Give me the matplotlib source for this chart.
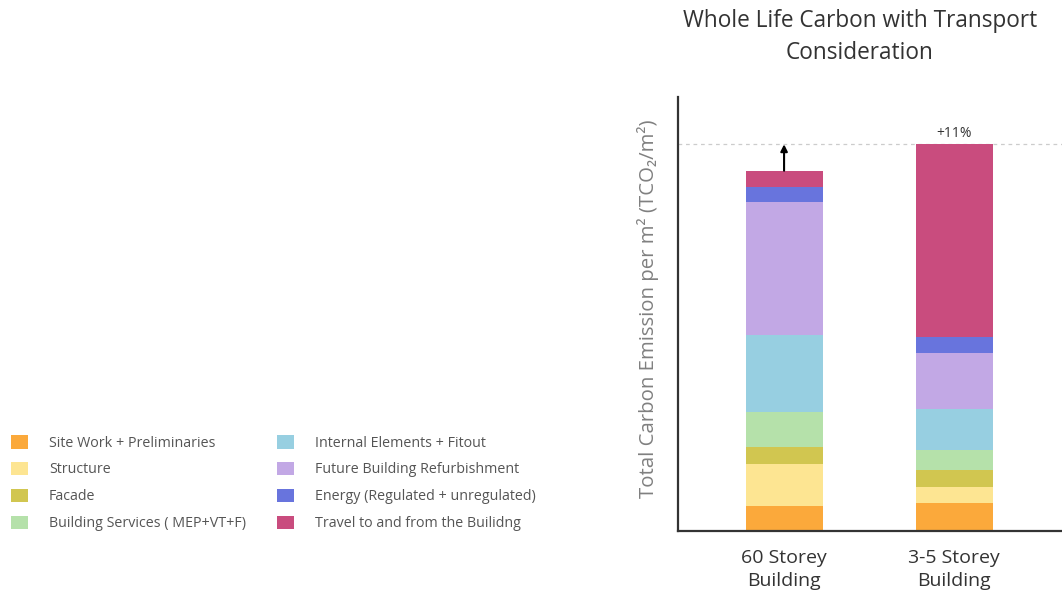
import matplotlib.pyplot as plt
import numpy as np
from matplotlib.patches import Patch

plt.rcParams['font.family'] = ['Open Sans', 'DejaVu Sans']

buildings = ["60 Storey\nBuilding", "3-5 Storey\nBuilding"]
categories = [
    "Site Work + Preliminaries",
    "Structure",
    "Facade",
    "Building Services ( MEP+VT+F)",
    "Internal Elements + Fitout",
    "Future Building Refurbishment",
    "Energy (Regulated + unregulated)",
    "Travel to and from the Builidng",
]
colors = ["#FBA93B", "#FDE592", "#D1C650", "#B5E1AA",
          "#97CFE1", "#C2A8E5", "#6874DD", "#C94C7E"]

# values per category (arbitrary units)
tall_values = [25, 41.7, 17, 35.3, 76.7, 133.3, 15, 16]
low_values = [27.4, 16.6, 16.7, 20, 40.7, 56, 16, 193]
increase_label = "+11%"

fig = plt.figure(figsize=(10.62, 5.95), dpi=100)
ax = fig.add_axes([678 / 1062, 1 - 530.7 / 595, 384 / 1062, 433.7 / 595])

x = np.arange(len(buildings))
bottoms = np.zeros(len(buildings))
for cat, col, v1, v2 in zip(categories, colors, tall_values, low_values):
    vals = np.array([v1, v2])
    ax.bar(x, vals, bottom=bottoms, width=0.453, color=col, label=cat)
    bottoms += vals

totals = bottoms
ax.axhline(totals[1], color="#cccccc", linestyle=(0, (3, 3)), linewidth=0.9, zorder=0)
ax.annotate("", xy=(x[0], totals[1]), xytext=(x[0], totals[0]),
            arrowprops=dict(arrowstyle="-|>", color="black", lw=1.5,
                            mutation_scale=10, shrinkA=0, shrinkB=0))
ax.text(x[1], totals[1] + 3, increase_label, ha="center", va="bottom",
        fontsize=10, color="#333333")

ax.set_xlim(-0.624, 1.635)
ax.set_ylim(0, 433.7)
ax.set_xticks(x)
ax.set_xticklabels(buildings, fontsize=14, color="#333333", linespacing=1.35)
ax.tick_params(axis="x", length=0, pad=13)
ax.set_yticks([])
for s in ["top", "right"]:
    ax.spines[s].set_visible(False)
for s in ["left", "bottom"]:
    ax.spines[s].set_color("#333333")
    ax.spines[s].set_linewidth(1.6)

fig.text(648 / 1062, 1 - 309 / 595,
         "Total Carbon Emission per m\u00b2 (TCO\u2082/m\u00b2)",
         rotation=90, ha="center", va="center", fontsize=14.7, color="#808080")
fig.text(860 / 1062, 1 - 37 / 595,
         "Whole Life Carbon with Transport\nConsideration",
         ha="center", va="center", fontsize=16.3, color="#333333", linespacing=1.4)

handles = [Patch(facecolor=c) for c in colors]
fig.legend(handles, categories, ncol=2, loc="upper left",
           bbox_to_anchor=(-2 / 1062, 1 - 422 / 595), frameon=False,
           fontsize=10.3, labelcolor="#555555", handlelength=1.2, handleheight=1.1,
           handletextpad=1.45, columnspacing=2.2, labelspacing=0.78)

fig.savefig("out.png", dpi=100)
